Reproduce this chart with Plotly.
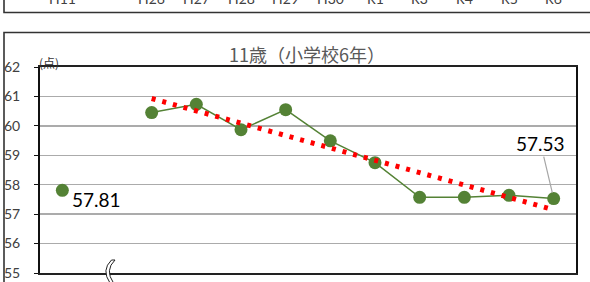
import plotly.graph_objects as go

# ---- data ----
categories = ["H11", " ", "H26", "H27", "H28", "H29", "H30", "R1", "R3", "R4", "R5", "R6"]
scores = [57.81, None, 60.45, 60.73, 59.87, 60.55, 59.49, 58.75, 57.57, 57.57, 57.64, 57.53]
trend_x = ["H26", "R6"]
trend_values = [60.93, 57.15]
prev_chart_labels = ["H11", "H26", "H27", "H28", "H29", "H30", "R1", "R3", "R4", "R5", "R6"]
y_ticks = [55, 56, 57, 58, 59, 60, 61, 62]
title_text = "11歳（小学校6年）"

GREEN = "#548235"
W, H = 590, 282
L, R, T, B = 40, 14, 67, 9
PW, PH = W - L - R, H - T - B


def px_x(p):
    return (p - L) / PW


def px_y(p):
    return (H - B - p) / PH


num_font = "Lato, 'Noto Sans', sans-serif"
cjk_font = "'Noto Sans CJK JP', sans-serif"

fig = go.Figure()

fig.add_trace(go.Scatter(
    x=categories, y=scores, mode="lines+markers",
    line=dict(color=GREEN, width=1.5),
    marker=dict(color=GREEN, size=13),
    connectgaps=False, showlegend=False, hoverinfo="skip",
))

fig.add_trace(go.Scatter(
    x=trend_x, y=trend_values, mode="lines",
    line=dict(color="#FF0000", width=5, dash="4px,7px"),
    showlegend=False, hoverinfo="skip",
))

annotations = []
annotations.append(dict(
    x=categories[0], y=scores[0], xref="x", yref="y",
    text="57.81", showarrow=False, xanchor="left", yanchor="middle",
    xshift=8, yshift=-9, font=dict(family=num_font, size=19, color="#000")
))
annotations.append(dict(
    x=categories[-1], y=scores[-1], xref="x", yref="y",
    text="57.53", showarrow=True, arrowhead=0, arrowwidth=1.2,
    arrowcolor="#a6a6a6", ax=-13, ay=-55, standoff=6,
    font=dict(family=num_font, size=19, color="#000")
))
annotations.append(dict(
    x=px_x(48.5), y=px_y(62.5), xref="paper", yref="paper",
    text="(点)", showarrow=False, xanchor="center", yanchor="middle",
    font=dict(family=cjk_font, size=12, color="#333")
))
annotations.append(dict(
    x=px_x(307), y=px_y(54.5), xref="paper", yref="paper",
    text=title_text, showarrow=False, xanchor="center", yanchor="middle",
    font=dict(family=cjk_font, size=18, color="#595959")
))
annotations.append(dict(
    x=px_x(583), y=px_y(287), xref="paper", yref="paper",
    text="(年度)", showarrow=False, xanchor="center", yanchor="middle",
    font=dict(family=cjk_font, size=9, color="#333")
))
for lab in prev_chart_labels:
    annotations.append(dict(
        x=lab, y=px_y(-1), xref="x", yref="paper",
        text=lab, showarrow=False, xanchor="center", yanchor="middle",
        font=dict(family=num_font, size=14, color="#404040")
    ))

shapes = []
shapes.append(dict(
    type="path", xref="paper", yref="paper",
    path=f"M {px_x(4)} {px_y(-5)} L {px_x(4)} {px_y(12.5)} L {px_x(600)} {px_y(12.5)}",
    line=dict(color="#333", width=1.6),
))
shapes.append(dict(
    type="path", xref="paper", yref="paper",
    path=f"M {px_x(4)} {px_y(300)} L {px_x(4)} {px_y(32.5)} L {px_x(600)} {px_y(32.5)}",
    line=dict(color="#333", width=1.6),
))
shapes.append(dict(
    type="path", xref="paper", yref="paper",
    path=(f"M {px_x(111.5)} {px_y(260)} Q {px_x(101)} {px_y(270)} {px_x(110)} {px_y(283)} "
          f"L {px_x(113.5)} {px_y(283)} Q {px_x(104.5)} {px_y(270)} {px_x(115)} {px_y(260)} Z"),
    fillcolor="white", line=dict(color="#222", width=1),
))

fig.update_layout(
    width=W, height=H,
    margin=dict(l=L, r=R, t=T, b=B, autoexpand=False),
    paper_bgcolor="white", plot_bgcolor="white",
    annotations=annotations, shapes=shapes,
    showlegend=False,
)
fig.update_xaxes(
    type="category", categoryorder="array", categoryarray=categories,
    range=[-0.5, len(categories) - 0.5],
    showgrid=False, showticklabels=False, ticks="",
    showline=True, linecolor="#222", linewidth=2, mirror=True,
    zeroline=False, fixedrange=True, automargin=False,
)
fig.update_yaxes(
    range=[55, 62], tickvals=y_ticks, ticktext=[str(v) for v in y_ticks],
    showgrid=True, gridcolor="#ababab", gridwidth=1.5,
    showline=True, linecolor="#111", linewidth=2, mirror=True,
    ticks="outside", ticklen=4, tickcolor="#111", tickwidth=1,
    ticklabelstandoff=11,
    tickfont=dict(family=num_font, size=14, color="#404040"),
    zeroline=False, fixedrange=True, automargin=False,
)

fig.write_html(
    "out.html",
    config={"staticPlot": True},
    post_script="document.body.style.margin='0';document.body.style.overflow='hidden';",
)
